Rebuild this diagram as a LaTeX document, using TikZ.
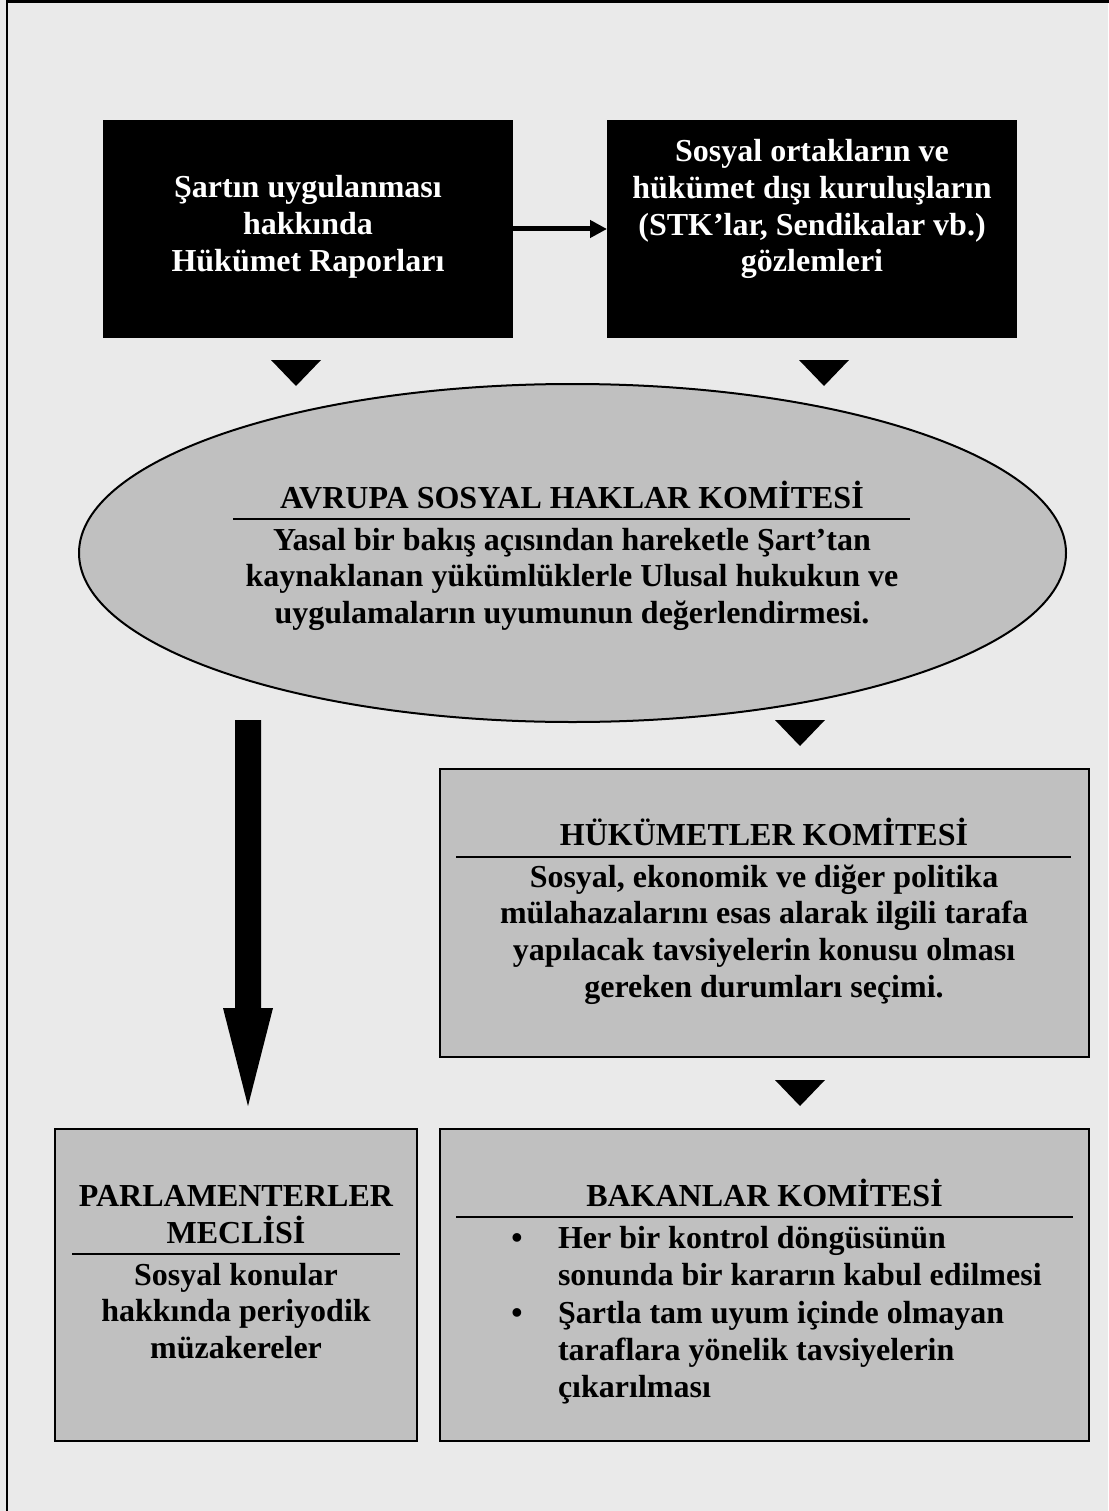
\documentclass[tikz,border=0pt]{standalone}
\usepackage{fontspec}
\setmainfont{Liberation Serif}
\usetikzlibrary{shapes.geometric,arrows.meta}
\definecolor{bggray}{HTML}{EAEAEA}
\definecolor{boxgray}{HTML}{C0C0C0}
\tikzset{
  txt/.style={font=\fontsize{32pt}{36.8pt}\selectfont\bfseries, inner sep=0pt, outer sep=0pt, anchor=base},
  wtxt/.style={txt, text=white},
  ltxt/.style={txt, anchor=base west},
  blkbox/.style={fill=black, inner sep=0pt, outer sep=0pt},
  gbox/.style={draw=black, line width=2pt, fill=boxgray, inner sep=0pt, outer sep=0pt},
  rulel/.style={line width=2pt},
  tri/.style={fill=black},
}
\begin{document}
\begin{tikzpicture}[x=1pt,y=-1pt]
\useasboundingbox (0,0) rectangle (1108,1511);
\fill[bggray] (0,0) rectangle (1108,1511);
% outer frame (right and bottom sides lie outside the picture)
\draw[line width=2.5pt] (7,1515) -- (7,1.5) -- (1112,1.5);

% top black boxes
\node[blkbox, minimum width=410pt, minimum height=218pt] (b1) at (308,229) {};
\node[blkbox, minimum width=410pt, minimum height=218pt] (b2) at (812,229) {};
\node[wtxt] (b1l1) at (308,198) {Şartın uygulanması};
\node[wtxt] (b1l2) at (308,235) {hakkında};
\node[wtxt] (b1l3) at (308,272) {Hükümet Raporları};
\node[wtxt] (b2l1) at (812,161.5) {Sosyal ortakların ve};
\node[wtxt] (b2l2) at (812,198.3) {hükümet dışı kuruluşların};
\node[wtxt] (b2l3) at (812,235.1) {(STK’lar, Sendikalar vb.)};
\node[wtxt] (b2l4) at (812,271.9) {gözlemleri};
\draw[line width=5pt, -{Triangle[width=17pt,length=17pt]}] (b1.east) -- (b2.west);

% small triangles
\fill[tri] (271,360) -- (321,360) -- (296,386) -- cycle;
\fill[tri] (799,360) -- (849,360) -- (824,386) -- cycle;

% ellipse
\node[ellipse, draw=black, line width=2pt, fill=boxgray, minimum width=987pt, minimum height=338pt, inner sep=0pt, outer sep=0pt] (ell) at (572.5,553) {};
\node[txt] (et) at (572,508) {AVRUPA SOSYAL HAKLAR KOMİTESİ};
\draw[rulel] (233,518.5) -- (910,518.5);
\node[txt] (el1) at (572,550) {Yasal bir bakış açısından hareketle Şart’tan};
\node[txt] (el2) at (572,586.8) {kaynaklanan yükümlüklerle Ulusal hukukun ve};
\node[txt] (el3) at (572,623.6) {uygulamaların uyumunun değerlendirmesi.};

% thick arrow
\fill[tri] (235,720) -- (261,720) -- (261,1008) -- (273,1008) -- (248,1106) -- (223,1008) -- (235,1008) -- cycle;

% triangles right
\fill[tri] (775,720) -- (825,720) -- (800,746) -- cycle;
\fill[tri] (775,1080) -- (825,1080) -- (800,1106) -- cycle;

% Hukumetler komitesi
\node[gbox, minimum width=649pt, minimum height=288pt] (hk) at (764.5,913) {};
\node[txt] (hkt) at (764,845) {HÜKÜMETLER KOMİTESİ};
\draw[rulel] (456,857) -- (1071,857);
\node[txt] (hk1) at (764,887) {Sosyal, ekonomik ve diğer politika};
\node[txt] (hk2) at (764,923.8) {mülahazalarını esas alarak ilgili tarafa};
\node[txt] (hk3) at (764,960.6) {yapılacak tavsiyelerin konusu olması};
\node[txt] (hk4) at (764,997.4) {gereken durumları seçimi.};

% Parlamenterler meclisi
\node[gbox, minimum width=362pt, minimum height=312pt] (pm) at (236,1285) {};
\node[txt] (pmt1) at (236,1206) {PARLAMENTERLER};
\node[txt] (pmt2) at (236,1243) {MECLİSİ};
\draw[rulel] (72,1254) -- (400,1254);
\node[txt] (pm1) at (236,1285) {Sosyal konular};
\node[txt] (pm2) at (236,1321.8) {hakkında periyodik};
\node[txt] (pm3) at (236,1358.6) {müzakereler};

% Bakanlar komitesi
\node[gbox, minimum width=649pt, minimum height=312pt] (bk) at (764.5,1285) {};
\node[txt] (bkt) at (764.5,1206) {BAKANLAR KOMİTESİ};
\draw[rulel] (456,1217) -- (1073,1217);
\node[txt] (bb1) at (517,1248) {•};
\node[ltxt] (bk1) at (558,1248) {Her bir kontrol döngüsünün};
\node[ltxt] (bk2) at (558,1285) {sonunda bir kararın kabul edilmesi};
\node[txt] (bb2) at (517,1323) {•};
\node[ltxt] (bk3) at (558,1323) {Şartla tam uyum içinde olmayan};
\node[ltxt] (bk4) at (558,1360) {taraflara yönelik tavsiyelerin};
\node[ltxt] (bk5) at (558,1397) {çıkarılması};
\end{tikzpicture}
\end{document}
